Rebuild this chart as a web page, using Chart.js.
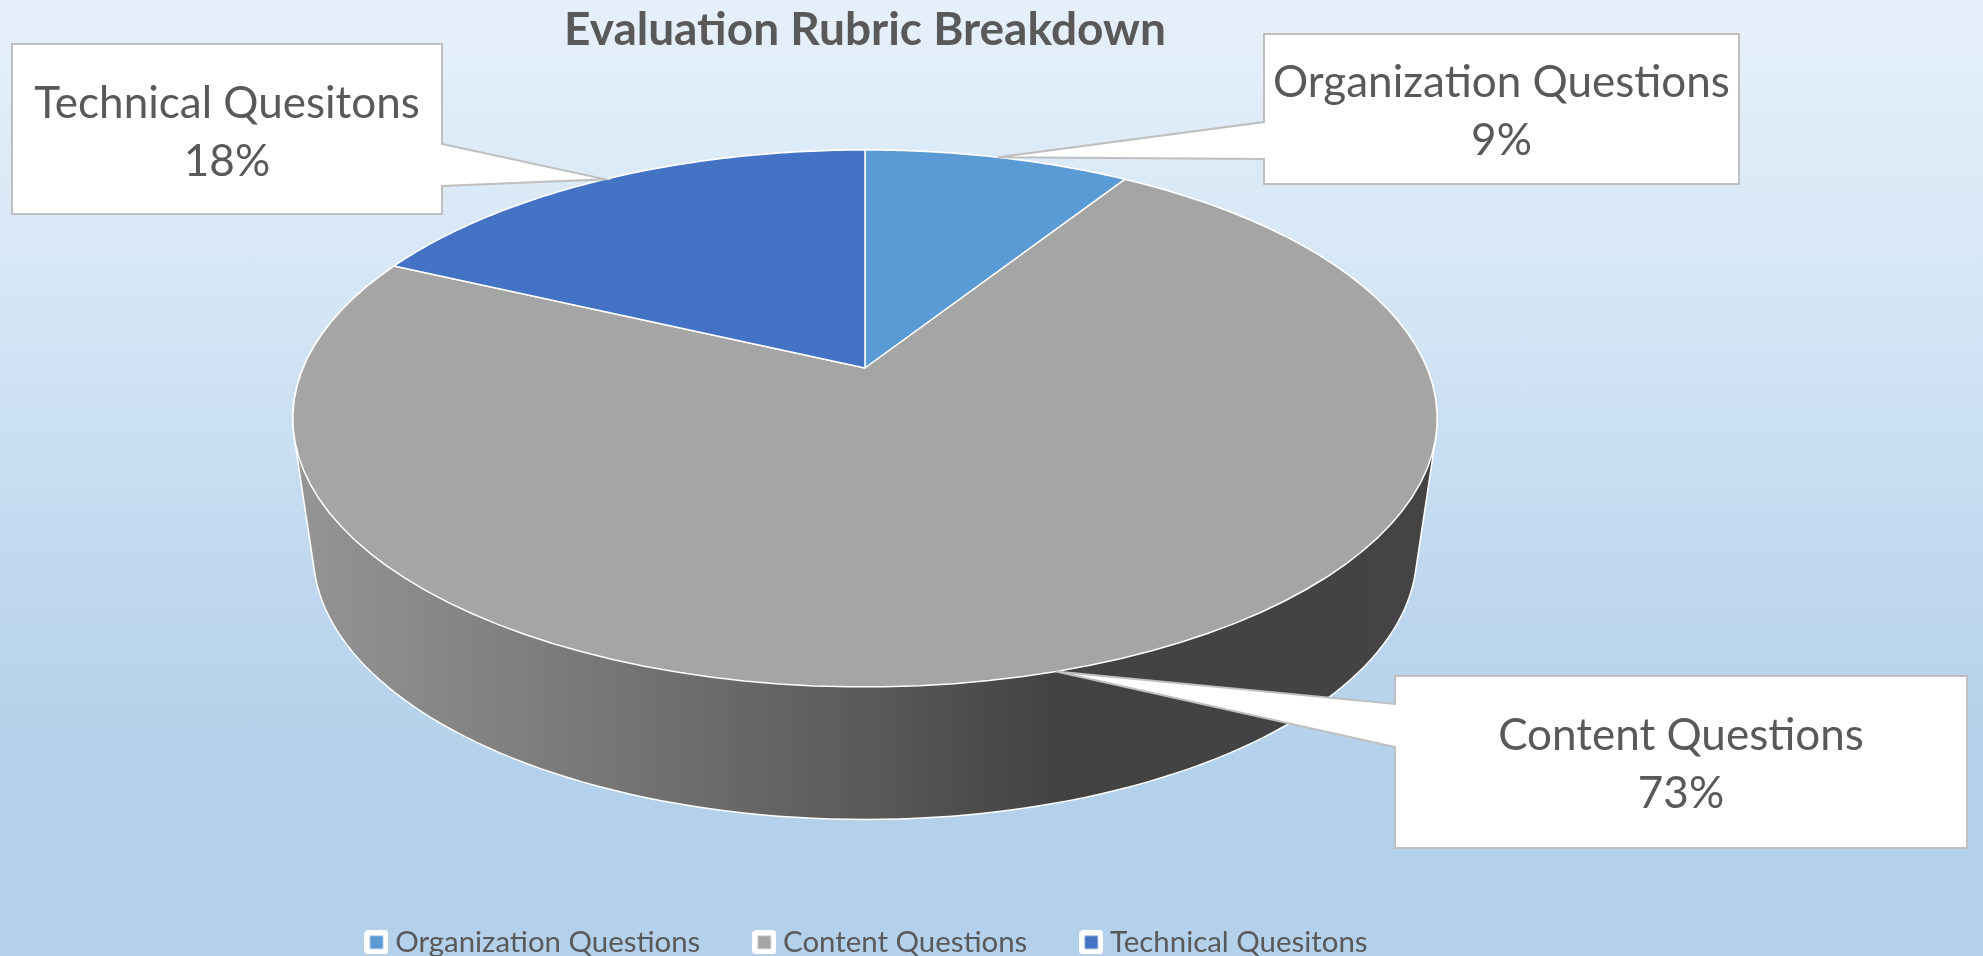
<!DOCTYPE html>
<html>
<head>
<meta charset="utf-8">
<title>Evaluation Rubric Breakdown</title>
<script src="https://cdn.jsdelivr.net/npm/chart.js@4"></script>
<style>
  html, body { margin: 0; padding: 0; width: 1983px; height: 956px; overflow: hidden; }
  body { background: linear-gradient(#e6f0fa 0px, #d3e5f5 320px, #bfd7ef 580px, #b4d1eb 760px, #b4d1eb 956px); }
  #wrap { position: relative; width: 1983px; height: 956px; }
</style>
</head>
<body>
<div id="wrap"><canvas id="chart"></canvas></div>
<script>
const categories = ["Organization Questions", "Content Questions", "Technical Quesitons"];
const shares = [9, 73, 18];
const sliceColors = ["#5b9bd5", "#a5a5a5", "#4472c4"];

// tilted disc: circle -> screen, k is the perspective strength
const topFace = { y: 368, a: 562, b: 259, k: 0.188 };
const bottomFace = { y: 503, a: 542, b: 257, k: 0.188 };
const textColor = "#595959";
const fontName = "Lato, Carlito, 'Open Sans', sans-serif";

// box of each callout, same order as categories
const calloutBoxes = [
  { x: 1264, y: 34, w: 475, h: 150, from: 122, to: 159, base: 97 },
  { x: 1395, y: 676, w: 572, h: 172, from: 704, to: 747, base: 750 },
  { x: 12, y: 44, w: 430, h: 170, from: 144, to: 186, base: 118 }
];

function project(face, cx, angle) {
  const u = Math.cos(angle), v = Math.sin(angle);
  const w = 1 - face.k * v;
  return { x: cx + face.a * u / w, y: face.y + face.b * v / w };
}

function convexHull(pts) {
  const p = pts.slice().sort((m, n) => m.x - n.x || m.y - n.y);
  const cross = (o, m, n) => (m.x - o.x) * (n.y - o.y) - (m.y - o.y) * (n.x - o.x);
  const half = (list) => {
    const out = [];
    for (const q of list) {
      while (out.length > 1 && cross(out[out.length - 2], out[out.length - 1], q) <= 0) out.pop();
      out.push(q);
    }
    out.pop();
    return out;
  };
  return half(p).concat(half(p.slice().reverse()));
}

function drawWall(ctx, cx) {
  const pts = [];
  for (let i = 0; i < 240; i++) {
    const t = i / 240 * Math.PI * 2;
    pts.push(project(topFace, cx, t));
    pts.push(project(bottomFace, cx, t));
  }
  const hull = convexHull(pts);
  const grad = ctx.createLinearGradient(295, 0, 1437, 0);
  grad.addColorStop(0, "#959595");
  grad.addColorStop(0.24, "#7a7a7a");
  grad.addColorStop(0.5, "#5a5a5a");
  grad.addColorStop(0.67, "#424242");
  grad.addColorStop(1, "#444444");
  ctx.beginPath();
  hull.forEach((q, i) => i ? ctx.lineTo(q.x, q.y) : ctx.moveTo(q.x, q.y));
  ctx.closePath();
  ctx.fillStyle = grad;
  ctx.fill();
  ctx.strokeStyle = "#ffffff";
  ctx.lineWidth = 1.5;
  ctx.stroke();
}

function drawSlice(ctx, arc, color) {
  const steps = 90;
  const apex = { x: arc.x, y: topFace.y };
  ctx.beginPath();
  ctx.moveTo(apex.x, apex.y);
  for (let i = 0; i <= steps; i++) {
    const t = arc.startAngle + (arc.endAngle - arc.startAngle) * i / steps;
    const q = project(topFace, arc.x, t);
    ctx.lineTo(q.x, q.y);
  }
  ctx.closePath();
  ctx.fillStyle = color;
  ctx.fill();
  ctx.strokeStyle = "#ffffff";
  ctx.lineWidth = 1.5;
  ctx.lineJoin = "round";
  ctx.stroke();
}

function drawCallout(ctx, box, tip, lines) {
  const onRight = tip.x > box.x + box.w;
  const side = onRight ? box.x + box.w : box.x;
  ctx.beginPath();
  ctx.moveTo(box.x, box.y);
  ctx.lineTo(box.x + box.w, box.y);
  if (onRight) {
    ctx.lineTo(side, box.from);
    ctx.lineTo(tip.x, tip.y);
    ctx.lineTo(side, box.to);
  }
  ctx.lineTo(box.x + box.w, box.y + box.h);
  ctx.lineTo(box.x, box.y + box.h);
  if (!onRight) {
    ctx.lineTo(side, box.to);
    ctx.lineTo(tip.x, tip.y);
    ctx.lineTo(side, box.from);
  }
  ctx.closePath();
  ctx.fillStyle = "#ffffff";
  ctx.fill();
  ctx.strokeStyle = "#bfbfbf";
  ctx.lineWidth = 2;
  ctx.stroke();
  ctx.fillStyle = textColor;
  ctx.font = "44px " + fontName;
  ctx.textAlign = "center";
  ctx.textBaseline = "alphabetic";
  ctx.fillText(lines[0], box.x + box.w / 2, box.base);
  ctx.fillText(lines[1], box.x + box.w / 2, box.base + 58);
}

const tiltedPie = {
  id: "tiltedPie",
  afterLayout(chart) {
    // legend sits a little right of the title in the original
    chart.legend.left += 5;
    chart.legend.right += 5;
  },
  beforeDatasetsDraw(chart) {
    const ctx = chart.ctx;
    const arcs = chart.getDatasetMeta(0).data;
    ctx.save();
    drawWall(ctx, arcs[0].x);
    arcs.forEach((arc, i) => drawSlice(ctx, arc, sliceColors[i]));
    ctx.restore();
    return false;
  },
  afterDraw(chart) {
    const ctx = chart.ctx;
    const arcs = chart.getDatasetMeta(0).data;
    ctx.save();
    arcs.forEach((arc, i) => {
      const mid = (arc.startAngle + arc.endAngle) / 2;
      const tip = project(topFace, arc.x, mid);
      drawCallout(ctx, calloutBoxes[i], tip, [categories[i], shares[i] + "%"]);
    });
    ctx.restore();
  }
};

function legendMark(color) {
  const c = document.createElement("canvas");
  c.width = 24;
  c.height = 24;
  const g = c.getContext("2d");
  g.fillStyle = "#ffffff";
  g.beginPath();
  g.roundRect(0, 0, 24, 24, 4);
  g.fill();
  g.fillStyle = color;
  g.fillRect(5.5, 5.5, 13, 13);
  return c;
}

const canvas = document.getElementById("chart");
canvas.width = 1983;
canvas.height = 956;

new Chart(canvas, {
  type: "pie",
  data: {
    labels: categories,
    datasets: [{ data: shares, backgroundColor: sliceColors }]
  },
  plugins: [tiltedPie],
  options: {
    responsive: false,
    animation: false,
    layout: { padding: { left: 0, right: 253, top: 0, bottom: -11 } },
    plugins: {
      title: {
        display: true,
        text: "Evaluation Rubric Breakdown",
        color: textColor,
        font: { family: fontName, size: 46, weight: "bold" },
        padding: { top: 3, bottom: 10 }
      },
      legend: {
        display: true,
        position: "bottom",
        labels: {
          color: textColor,
          font: { family: fontName, size: 29.4 },
          boxWidth: 8,
          padding: 60,
          usePointStyle: true,
          generateLabels(chart) {
            return categories.map((name, i) => ({
              text: name,
              fontColor: textColor,
              pointStyle: legendMark(sliceColors[i]),
              index: i
            }));
          }
        }
      },
      tooltip: { enabled: false }
    }
  }
});
</script>
</body>
</html>
